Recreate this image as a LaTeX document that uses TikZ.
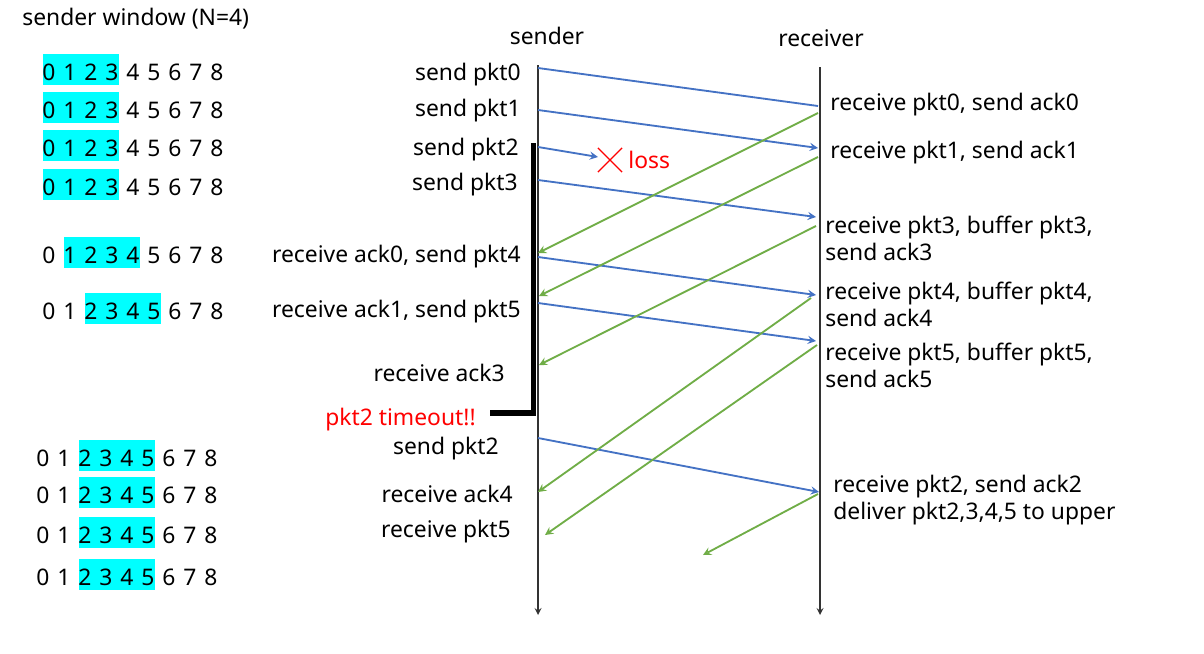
\documentclass[tikz,border=0pt]{standalone}
\usepackage{fontspec}
\setmainfont{Noto Sans}
\usetikzlibrary{shapes.misc}

\definecolor{pktblue}{HTML}{4472C4}
\definecolor{ackgreen}{HTML}{70AD47}
\definecolor{wincyan}{HTML}{00FFFF}

\begin{document}
\begin{tikzpicture}[>=stealth,x=0.02cm,y=-0.02cm,
		every node/.style={font=\fontsize{13}{15.3}\selectfont,inner sep=0pt},
		pkt/.style={->,pktblue,line width=1.05pt},
		ack/.style={->,ackgreen,line width=1.05pt},
		lbl/.style={anchor=east,yshift=-0.045cm},
		rlbl/.style={anchor=west,align=left,yshift=-0.045cm}]
	
	\useasboundingbox (0,0) rectangle (1204,653);
	
	% janela do emissor
	\node[anchor=west] (title) at (22,19) {sender window (N=4)};
	\foreach \y/\xo/\s [count=\r] in {72/43/0,110/43/0,148/43/0,187/43/0,255/43/1,311/43/2,458/37/2,495/37/2,535/37/2,577/37/2}{
		\fill[wincyan] ({\xo+\s*21},{\y-18}) rectangle ({\xo+(\s+3)*21+13},{\y+13});
		\foreach \d in {0,...,8}
			\node (w\r-\d) at ({\xo+6+\d*21},\y) {\d};
	}
	
	% linhas de tempo
	\node (sender) at (547,36) {sender};
	\node (receiver) at (821,38) {receiver};
	\coordinate (sTop) at (538,65);
	\coordinate (sBot) at (538,615);
	\coordinate (rTop) at (820,67);
	\coordinate (rBot) at (820,615);
	\draw[->,black!80,line width=0.75pt] (sTop) -- (sBot);
	\draw[->,black!80,line width=0.75pt] (rTop) -- (rBot);
	
	% pacotes
	\coordinate (p0s) at (538,68);  \coordinate (p0r) at (818,106);
	\coordinate (p1s) at (538,110); \coordinate (p1r) at (818,148);
	\coordinate (p2s) at (538,147); \coordinate (p2x) at (598,157);
	\coordinate (p3s) at (538,180); \coordinate (p3r) at (816,217);
	\coordinate (p4s) at (538,257); \coordinate (p4r) at (816,295);
	\coordinate (p5s) at (538,303); \coordinate (p5r) at (816,341);
	\coordinate (q2s) at (538,438); \coordinate (q2r) at (819,492);
	
	\draw[pkt,-] (p0s) -- (p0r);
	\draw[pkt] (p1s) -- (p1r);
	\draw[pkt] (p2s) -- (p2x);
	\draw[pkt] (p3s) -- (p3r);
	\draw[pkt] (p4s) -- (p4r);
	\draw[pkt] (p5s) -- (p5r);
	\draw[pkt] (q2s) -- (q2r);
	
	% perda
	\node[draw=red,cross out,minimum size=0.46cm,line width=0.7pt] (lossX) at (610,160) {};
	\node[anchor=west,red] (loss) at (628,160) {loss};
	
	% acks
	\coordinate (a0r) at (818,113); \coordinate (a0s) at (538,253);
	\coordinate (a1r) at (818,157); \coordinate (a1s) at (539,296);
	\coordinate (a3r) at (816,226); \coordinate (a3s) at (539,365);
	\coordinate (a4r) at (811,298); \coordinate (a4s) at (538,492);
	\coordinate (a5r) at (817,345); \coordinate (a5s) at (545,535);
	\coordinate (a2r) at (818,494); \coordinate (a2s) at (703,555);
	
	\draw[ack] (a0r) -- (a0s);
	\draw[ack] (a1r) -- (a1s);
	\draw[ack] (a3r) -- (a3s);
	\draw[ack] (a4r) -- (a4s);
	\draw[ack] (a5r) -- (a5s);
	\draw[ack] (a2r) -- (a2s);
	
	% timer do pkt2
	\coordinate (t0) at (533.5,143);
	\coordinate (t1) at (533.5,413);
	\coordinate (t2) at (490,413);
	\draw[line width=3.2pt] (t0) -- (t1) -- (t2);
	
	% lado do emissor
	\node[lbl] (l0) at (521,72) {send pkt0};
	\node[lbl] (l1) at (521,108) {send pkt1};
	\node[lbl] (l2) at (519,147) {send pkt2};
	\node[lbl] (l3) at (518,182) {send pkt3};
	\node[lbl] (l4) at (521,254) {receive ack0, send pkt4};
	\node[lbl] (l5) at (521,309) {receive ack1, send pkt5};
	\node[lbl] (l6) at (505,371) {receive ack3};
	\node[lbl,red] (tmo) at (476,417) {pkt2 timeout!!};
	\node[lbl] (l7) at (499,446) {send pkt2};
	\node[lbl] (l8) at (513,492) {receive ack4};
	\node[lbl] (l9) at (511,529) {receive pkt5};
	
	% lado do receptor
	\node[rlbl] (r0) at (830,102) {receive pkt0, send ack0};
	\node[rlbl] (r1) at (830,150) {receive pkt1, send ack1};
	\node[rlbl] (r3) at (825,236) {receive pkt3, buffer pkt3,\\send ack3};
	\node[rlbl] (r4) at (825,302) {receive pkt4, buffer pkt4,\\send ack4};
	\node[rlbl] (r5) at (825,363) {receive pkt5, buffer pkt5,\\send ack5};
	\node[rlbl] (r2) at (833,498) {receive pkt2, send ack2\\deliver pkt2,3,4,5 to upper};
	
\end{tikzpicture}
\end{document}
